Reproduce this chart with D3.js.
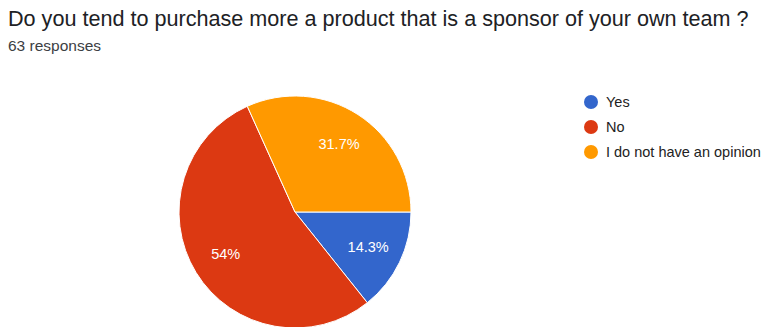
<!DOCTYPE html>
<html>
<head>
<meta charset="utf-8">
<script src="https://cdn.jsdelivr.net/npm/d3@7/dist/d3.min.js"></script>
<style>
  html, body { margin: 0; padding: 0; background: #fff; }
  svg { display: block; }
</style>
</head>
<body>
<svg id="chart" width="774" height="327"></svg>
<script>
// Survey answers
const categories = ["Yes", "No", "I do not have an opinion"];
const counts = [9, 34, 20];
const colors = ["#3366cc", "#dc3912", "#ff9900"];
const title = "Do you tend to purchase more a product that is a sponsor of your own team ?";
const subtitle = "63 responses";

const svg = d3.select("#chart");
const font = "'Liberation Sans', Arial, sans-serif";

svg.append("text")
  .attr("x", 8).attr("y", 26)
  .attr("font-family", font)
  .attr("font-size", 21.6)
  .attr("fill", "#202124")
  .text(title);

svg.append("text")
  .attr("x", 8).attr("y", 51)
  .attr("font-family", font)
  .attr("font-size", 15.5)
  .attr("fill", "#3c4043")
  .text(subtitle);

const total = d3.sum(counts);
const data = categories.map((c, i) => ({ name: c, value: counts[i], color: colors[i] }));

const cx = 295, cy = 212, r = 116;
const pie = d3.pie().value(d => d.value).sort(null)
  .startAngle(Math.PI / 2).endAngle(Math.PI / 2 + 2 * Math.PI);
const arc = d3.arc().innerRadius(0).outerRadius(r);
const labelArc = d3.arc().innerRadius(r * 0.7).outerRadius(r * 0.7);

const g = svg.append("g").attr("transform", `translate(${cx},${cy})`);
const arcs = pie(data);

g.selectAll("path.slice").data(arcs).join("path")
  .attr("class", "slice")
  .attr("d", arc)
  .attr("fill", d => d.data.color)
  .attr("stroke", "#fff")
  .attr("stroke-width", 1);

const fmt = v => {
  const p = Math.round(v / total * 1000) / 10;
  return (p % 1 === 0 ? p.toFixed(0) : p.toFixed(1)) + "%";
};

g.selectAll("text.pct").data(arcs).join("text")
  .attr("class", "pct")
  .attr("transform", d => `translate(${labelArc.centroid(d)})`)
  .attr("text-anchor", "middle")
  .attr("dy", "0.35em")
  .attr("font-family", font)
  .attr("font-size", 14.5)
  .attr("fill", "#fff")
  .text(d => fmt(d.data.value));

// Legend
const legend = svg.append("g").attr("transform", "translate(591,102)");
const item = legend.selectAll("g").data(data).join("g")
  .attr("transform", (d, i) => `translate(0,${i * 25})`);
item.append("circle").attr("r", 7).attr("fill", d => d.color);
item.append("text")
  .attr("x", 15).attr("dy", "0.36em")
  .attr("font-family", font)
  .attr("font-size", 14.5)
  .attr("fill", "#222")
  .text(d => d.name);
</script>
</body>
</html>
